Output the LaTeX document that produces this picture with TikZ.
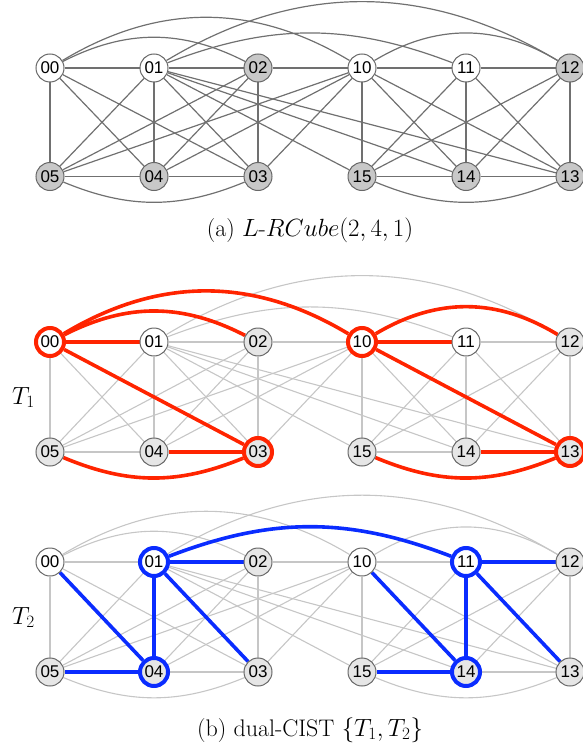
\documentclass[tikz,border=0pt]{standalone}
\usepackage{fontspec}
\newfontfamily\labfont{Liberation Sans}
\pgfdeclarelayer{bg}
\pgfdeclarelayer{mid}
\pgfsetlayers{bg,mid,main}
\definecolor{edgeA}{HTML}{707070}
\definecolor{edgeB}{HTML}{C6C6C6}
\definecolor{nodeBorder}{HTML}{686868}
\definecolor{fillA}{HTML}{C8C8C8}
\definecolor{fillB}{HTML}{E6E6E6}
\definecolor{treeRed}{HTML}{FF2400}
\definecolor{treeBlue}{HTML}{0A2CFF}
\newcommand\alledges[2]{%
  \foreach \c in {0,1}{%
    \foreach \u/\v in {0/1,1/2,0/5,1/4,2/3,5/4,4/3,0/4,0/3,1/5,1/3,2/5,2/4}{%
      \draw[#2] (#1\c\u) -- (#1\c\v);}}
  \draw[#2] (#100) to[bend left=27] (#102);
  \draw[#2] (#110) to[bend left=31] (#112);
  \draw[#2] (#105) to[bend right=22.5] (#103);
  \draw[#2] (#115) to[bend right=22.5] (#113);
  \draw[#2] (#100) to[bend left=31] (#110);
  \draw[#2] (#101) to[bend left=21] (#111);
  \draw[#2] (#101) to[bend left=31] (#112);
  \foreach \v in {02,03,04,05}{\draw[#2] (#110) -- (#1\v);}
  \foreach \v in {13,14,15}{\draw[#2] (#101) -- (#1\v);}
}
\begin{document}
\begin{tikzpicture}[x=1pt,y=-1pt,
  gn/.style={circle,draw=nodeBorder,line width=1pt,minimum size=28pt,inner sep=0pt,font=\labfont\fontsize{17}{18}\selectfont},
  nAw/.style={gn,fill=white},
  nAg/.style={gn,fill=fillA},
  nBw/.style={gn,fill=white},
  nBg/.style={gn,fill=fillB},
  hlR/.style={draw=treeRed,line width=4pt},
  hlB/.style={draw=treeBlue,line width=4pt},
  b00/.style=hlR, b10/.style=hlR, b03/.style=hlR, b13/.style=hlR,
  c01/.style=hlB, c11/.style=hlB, c04/.style=hlB, c14/.style=hlB,
  eA/.style={draw=edgeA,line width=1.2pt},
  eB/.style={draw=edgeB,line width=1.1pt},
  eR/.style={draw=treeRed,line width=3.6pt},
  eU/.style={draw=treeBlue,line width=3.6pt},
  capt/.style={font=\fontsize{24}{28}\selectfont,inner sep=0pt,anchor=base},
]
\useasboundingbox (0,0) rectangle (582,749);
% nodes
\foreach \n/\x/\r/\w in {00/50/0/w,01/154/0/w,02/258/0/g,10/362/0/w,11/466/0/w,12/570/0/g,
                         05/50/1/g,04/154/1/g,03/258/1/g,15/362/1/g,14/466/1/g,13/570/1/g}{
  \node[nA\w] (a\n) at (\x,68+108.5*\r) {\n};
  \node[nB\w,b\n/.try] (b\n) at (\x,342+110*\r) {\n};
  \node[nB\w,c\n/.try] (c\n) at (\x,562+110*\r) {\n};
}
\begin{pgfonlayer}{bg}
  \alledges{a}{eA}
  \alledges{b}{eB}
  \alledges{c}{eB}
\end{pgfonlayer}
\begin{pgfonlayer}{mid}
  % T1
  \draw[eR] (b00) -- (b01);
  \draw[eR] (b00) to[bend left=27] (b02);
  \draw[eR] (b00) to[bend left=31] (b10);
  \draw[eR] (b00) -- (b03);
  \draw[eR] (b04) -- (b03);
  \draw[eR] (b05) to[bend right=22.5] (b03);
  \draw[eR] (b10) -- (b11);
  \draw[eR] (b10) to[bend left=31] (b12);
  \draw[eR] (b10) -- (b13);
  \draw[eR] (b14) -- (b13);
  \draw[eR] (b15) to[bend right=22.5] (b13);
  % T2
  \draw[eU] (c00) -- (c04);
  \draw[eU] (c01) -- (c04);
  \draw[eU] (c01) -- (c02);
  \draw[eU] (c01) -- (c03);
  \draw[eU] (c05) -- (c04);
  \draw[eU] (c01) to[bend left=21] (c11);
  \draw[eU] (c11) -- (c12);
  \draw[eU] (c11) -- (c14);
  \draw[eU] (c11) -- (c13);
  \draw[eU] (c10) -- (c14);
  \draw[eU] (c15) -- (c14);
\end{pgfonlayer}
% labels
\node[capt] (capa) at (310,236) {(a) $L$-$RCube(2,4,1)$};
\node[capt] (capb) at (310,736) {(b) dual-CIST $\{T_1,T_2\}$};
\node[capt,anchor=base west] (t1) at (12,404) {$T_1$};
\node[capt,anchor=base west] (t2) at (12,624) {$T_2$};
\end{tikzpicture}
\end{document}
